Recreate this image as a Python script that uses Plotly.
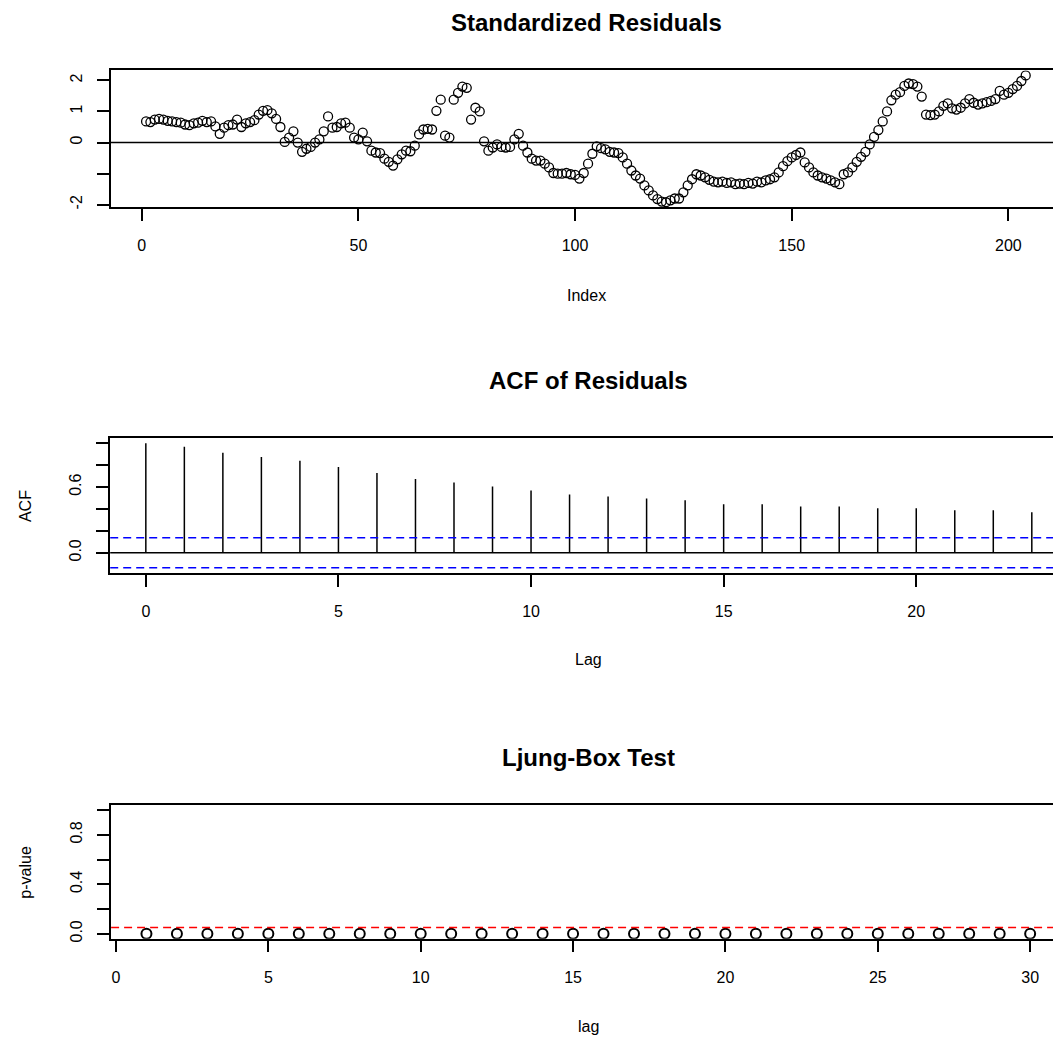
import math
import plotly.graph_objects as go

# ---------------- data ----------------
std_resid = [
    0.68, 0.66, 0.74, 0.76, 0.74, 0.70, 0.68, 0.66, 0.64, 0.58,
    0.56, 0.62, 0.64, 0.70, 0.66, 0.68, 0.52, 0.28, 0.48, 0.56,
    0.58, 0.74, 0.50, 0.62, 0.66, 0.72, 0.90, 1.02, 1.04, 0.94,
    0.76, 0.50, 0.02, 0.16, 0.36, 0.00, -0.30, -0.20, -0.14, 0.00,
    0.10, 0.36, 0.84, 0.48, 0.50, 0.62, 0.64, 0.48, 0.16, 0.10,
    0.32, 0.04, -0.26, -0.32, -0.34, -0.52, -0.62, -0.74, -0.54, -0.38,
    -0.26, -0.28, -0.10, 0.26, 0.42, 0.44, 0.42, 1.02, 1.38, 0.22,
    0.16, 1.38, 1.60, 1.80, 1.76, 0.74, 1.12, 1.00, 0.04, -0.26,
    -0.16, -0.06, -0.14, -0.16, -0.14, 0.10, 0.28, -0.10, -0.32, -0.52,
    -0.58, -0.58, -0.68, -0.80, -0.98, -1.00, -1.00, -0.98, -1.02, -1.04,
    -1.16, -0.98, -0.68, -0.36, -0.12, -0.18, -0.22, -0.30, -0.32, -0.34,
    -0.48, -0.68, -0.90, -1.06, -1.16, -1.38, -1.54, -1.70, -1.82, -1.90,
    -1.92, -1.86, -1.80, -1.80, -1.60, -1.38, -1.18, -1.02, -1.06, -1.12,
    -1.20, -1.26, -1.28, -1.26, -1.30, -1.28, -1.34, -1.32, -1.34, -1.30,
    -1.32, -1.26, -1.28, -1.22, -1.18, -1.12, -0.96, -0.76, -0.60, -0.48,
    -0.40, -0.32, -0.64, -0.80, -0.96, -1.06, -1.12, -1.16, -1.22, -1.28,
    -1.34, -1.02, -0.96, -0.80, -0.62, -0.46, -0.30, -0.06, 0.18, 0.40,
    0.68, 1.00, 1.36, 1.54, 1.62, 1.82, 1.90, 1.88, 1.80, 1.48,
    0.90, 0.88, 0.90, 1.00, 1.18, 1.26, 1.10, 1.06, 1.12, 1.26,
    1.40, 1.28, 1.22, 1.26, 1.30, 1.34, 1.40, 1.66, 1.54, 1.60,
    1.72, 1.82, 1.98, 2.16,
]
resid_index = list(range(1, len(std_resid) + 1))

acf_lags = list(range(0, 24))
acf_vals = [1.000, 0.970, 0.915, 0.876, 0.840, 0.785, 0.730, 0.675, 0.643, 0.606,
            0.570, 0.533, 0.515, 0.497, 0.479, 0.443, 0.443, 0.424, 0.424, 0.406,
            0.406, 0.388, 0.388, 0.370]

lb_lags = list(range(1, 31))
lb_pvals = [0.0, 0.0, 0.0, 0.0, 0.0, 0.0, 0.0, 0.0, 0.0, 0.0,
            0.0, 0.0, 0.0, 0.0, 0.0, 0.0, 0.0, 0.0, 0.0, 0.0,
            0.0, 0.0, 0.0, 0.0, 0.0, 0.0, 0.0, 0.0, 0.0, 0.0]
lb_alpha = 0.05

conf_limit = 1.96 / math.sqrt(len(std_resid))

x1_ticks = [0, 50, 100, 150, 200]
y1_ticks = [-2, -1, 0, 1, 2]
y1_text = ["-2", "", "0", "1", "2"]
x2_ticks = [0, 5, 10, 15, 20]
y2_ticks = [0.0, 0.2, 0.4, 0.6, 0.8, 1.0]
y2_text = ["0.0", "", "", "0.6", "", ""]
x3_ticks = [0, 5, 10, 15, 20, 25, 30]
y3_ticks = [0.0, 0.2, 0.4, 0.6, 0.8, 1.0]
y3_text = ["0.0", "", "0.4", "", "0.8", ""]

# ---------------- figure ----------------
W, H = 1053, 1047
FONT = "Liberation Sans, Arial, sans-serif"
TICK_SIZE = 16
LAB_SIZE = 16
TITLE_SIZE = 24


def fx(p):
    return p / W


def fy(p):
    return 1 - p / H


fig = go.Figure()

# panel 1: standardized residuals
fig.add_trace(go.Scatter(
    x=resid_index, y=std_resid, mode="markers", xaxis="x", yaxis="y",
    marker=dict(symbol="circle-open", size=9, color="black", line=dict(width=1.3, color="black")),
    hoverinfo="skip"))

# panel 2: ACF spikes
spk_x, spk_y = [], []
for lag, val in zip(acf_lags, acf_vals):
    spk_x += [lag, lag, None]
    spk_y += [0, val, None]
fig.add_trace(go.Scatter(x=spk_x, y=spk_y, mode="lines", xaxis="x2", yaxis="y2",
                         line=dict(color="black", width=1.5), hoverinfo="skip"))

# panel 3: Ljung-Box p-values
fig.add_trace(go.Scatter(
    x=lb_lags, y=lb_pvals, mode="markers", xaxis="x3", yaxis="y3",
    marker=dict(symbol="circle-open", size=10, color="black", line=dict(width=2, color="black")),
    hoverinfo="skip"))

axis_common = dict(showline=True, linecolor="black", linewidth=1.5, ticks="outside",
                   ticklen=12, tickwidth=1.5, tickcolor="black", showgrid=False,
                   zeroline=False, tickfont=dict(family=FONT, size=TICK_SIZE, color="black"),
                   fixedrange=True)

fig.update_layout(
    width=W, height=H, autosize=False,
    margin=dict(l=0, r=0, t=0, b=0, pad=0),
    paper_bgcolor="white", plot_bgcolor="white", showlegend=False,
    font=dict(family=FONT, size=LAB_SIZE, color="black"),
    xaxis=dict(domain=[fx(110.9), 1.0], range=[-7.12, 210.3], tickvals=x1_ticks,
               mirror=True, anchor="y", ticklabelstandoff=11, **axis_common),
    yaxis=dict(domain=[fy(208), fy(70.7)], range=[-2.08, 2.32], tickvals=y1_ticks,
               ticktext=y1_text, tickangle=-90, anchor="x", ticklabelstandoff=9, **axis_common),
    xaxis2=dict(domain=[fx(110.2), 1.0], range=[-0.925, 23.55], tickvals=x2_ticks,
                mirror=True, anchor="y2", ticklabelstandoff=11, **axis_common),
    yaxis2=dict(domain=[fy(575), fy(440)], range=[-0.183, 1.046], tickvals=y2_ticks,
                ticktext=y2_text, tickangle=-90, anchor="x2", ticklabelstandoff=9, **axis_common),
    xaxis3=dict(domain=[fx(111.1), 1.0], range=[-0.16, 30.75], tickvals=x3_ticks,
                mirror=True, anchor="y3", ticklabelstandoff=11, **axis_common),
    yaxis3=dict(domain=[fy(942.3), fy(808.3)], range=[-0.04, 1.04], tickvals=y3_ticks,
                ticktext=y3_text, tickangle=-90, anchor="x3", ticklabelstandoff=9, **axis_common),
)

shapes = [
    dict(type="line", xref="x domain", x0=0, x1=1, yref="y", y0=0, y1=0,
         line=dict(color="black", width=1.5)),
    dict(type="line", xref="x2 domain", x0=0, x1=1, yref="y2", y0=0, y1=0,
         line=dict(color="black", width=1.5)),
    dict(type="line", xref="x2 domain", x0=0, x1=1, yref="y2", y0=conf_limit, y1=conf_limit,
         line=dict(color="#0000FF", width=1.5, dash="8px,5px")),
    dict(type="line", xref="x2 domain", x0=0, x1=1, yref="y2", y0=-conf_limit, y1=-conf_limit,
         line=dict(color="#0000FF", width=1.5, dash="8px,5px")),
    dict(type="line", xref="x3 domain", x0=0, x1=1, yref="y3", y0=lb_alpha, y1=lb_alpha,
         line=dict(color="#FF0000", width=1.5, dash="8px,5px")),
]
fig.update_layout(shapes=shapes)


def ann(text, px, py, size=LAB_SIZE, bold=False, angle=0):
    return dict(text=f"<b>{text}</b>" if bold else text, x=fx(px), y=fy(py),
                xref="paper", yref="paper", xanchor="center", yanchor="middle",
                showarrow=False, textangle=angle,
                font=dict(family=FONT, size=size, color="black"))


fig.update_layout(annotations=[
    ann("Standardized Residuals", 586, 23, size=TITLE_SIZE, bold=True),
    ann("Index", 586, 297),
    ann("ACF of Residuals", 588, 382, size=TITLE_SIZE, bold=True),
    ann("Lag", 588, 662),
    ann("ACF", 25, 508, angle=-90),
    ann("Ljung-Box Test", 588, 760, size=TITLE_SIZE, bold=True),
    ann("lag", 588, 1030),
    ann("p-value", 26, 876, angle=-90),
])

fig.write_html("out.html")
